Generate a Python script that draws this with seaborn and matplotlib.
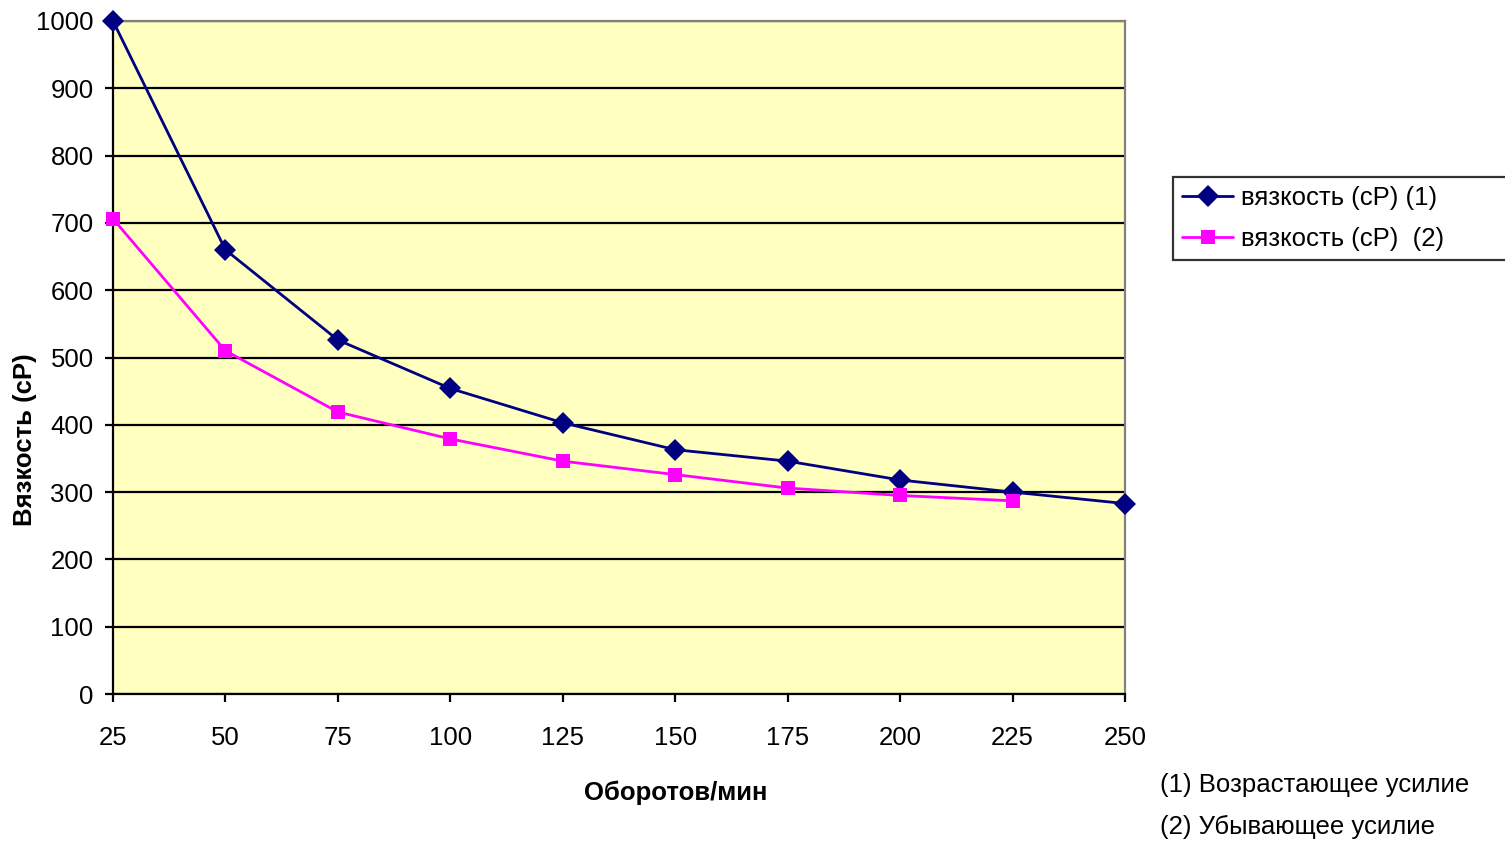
import numpy as np
import pandas as pd
import matplotlib
matplotlib.use("Agg")
import matplotlib.pyplot as plt
import seaborn as sns

# Rotational speed (rpm) and measured viscosity (cP)
rpm = [25, 50, 75, 100, 125, 150, 175, 200, 225, 250]
visc_up = [1000, 660, 526, 454, 403, 363, 346, 318, 300, 283]
visc_down = [706, 510, 419, 379, 346, 326, 306, 295, 287, np.nan]
series_names = ["вязкость (cP) (1)", "вязкость (cP)  (2)"]
y_ticks = list(range(0, 1001, 100))
notes = ["(1) Возрастающее усилие", "(2) Убывающее усилие"]

df = pd.DataFrame({
    "rpm": rpm * 2,
    "visc": visc_up + visc_down,
    "series": [series_names[0]] * len(rpm) + [series_names[1]] * len(rpm),
}).dropna()

sns.set_theme(style="white")
plt.rcParams["font.family"] = ["Liberation Sans", "DejaVu Sans"]
plt.rcParams["text.color"] = "black"
plt.rcParams["axes.labelcolor"] = "black"

FS = 18.5

fig = plt.figure(figsize=(15.05, 8.42), dpi=100)
fig.patch.set_facecolor("white")
ax = fig.add_axes([113 / 1505, 1 - 694 / 842, 1012 / 1505, 673 / 842])
ax.set_facecolor("#FFFFC0")

palette = {series_names[0]: "#000080", series_names[1]: "#FF00FF"}
sns.lineplot(
    data=df, x="rpm", y="visc", hue="series", style="series",
    palette=palette, markers={series_names[0]: "D", series_names[1]: "s"},
    dashes=False, linewidth=2.0, markersize=10, markeredgewidth=0,
    ax=ax, legend=True, clip_on=False, zorder=3,
)
# slightly larger diamonds than squares
for ln in ax.lines:
    if ln.get_marker() == "D":
        ln.set_markersize(11)

ax.set_xlim(25, 250)
ax.set_ylim(0, 1000)
ax.set_xticks(rpm)
ax.set_yticks(y_ticks)
ax.yaxis.grid(True, color="black", linewidth=1.6)
ax.xaxis.grid(False)
ax.set_axisbelow(True)

for side in ("left", "bottom"):
    ax.spines[side].set_color("black")
    ax.spines[side].set_linewidth(1.6)
for side in ("top", "right"):
    ax.spines[side].set_color("#808080")
    ax.spines[side].set_linewidth(1.6)

ax.tick_params(axis="both", which="major", labelsize=FS, colors="black",
               length=6, width=1.6, direction="out")
ax.tick_params(axis="x", pad=17, bottom=True)
ax.tick_params(axis="y", pad=8, left=True)

ax.set_xlabel("")
ax.set_ylabel("")
fig.text(676 / 1505, 1 - 793 / 842, "Оборотов/мин", fontsize=FS,
         fontweight="bold", ha="center", va="center")
fig.text(25 / 1505, 1 - 440 / 842, "Вязкость (cP)", fontsize=FS,
         fontweight="bold", ha="center", va="center", rotation=90)

handles, labels = ax.get_legend_handles_labels()
ax.legend_.remove()
for h in handles:
    if h.get_marker() == "D":
        h.set_markersize(11)
leg = fig.legend(
    handles, labels, loc="upper left",
    bbox_to_anchor=(1173 / 1505, 1 - 257 / 842, 0.3, 80 / 842),
    mode="expand", borderaxespad=0, fontsize=FS, frameon=True,
    fancybox=False, edgecolor="black", handlelength=2.0, handletextpad=0.3,
    labelspacing=0.65, borderpad=0.35,
)
leg.get_frame().set_linewidth(1.6)

for i, txt in enumerate(notes):
    fig.text(1160 / 1505, 1 - (785 + 42 * i) / 842, txt, fontsize=FS,
             ha="left", va="center")

fig.savefig("out.png", dpi=100)
